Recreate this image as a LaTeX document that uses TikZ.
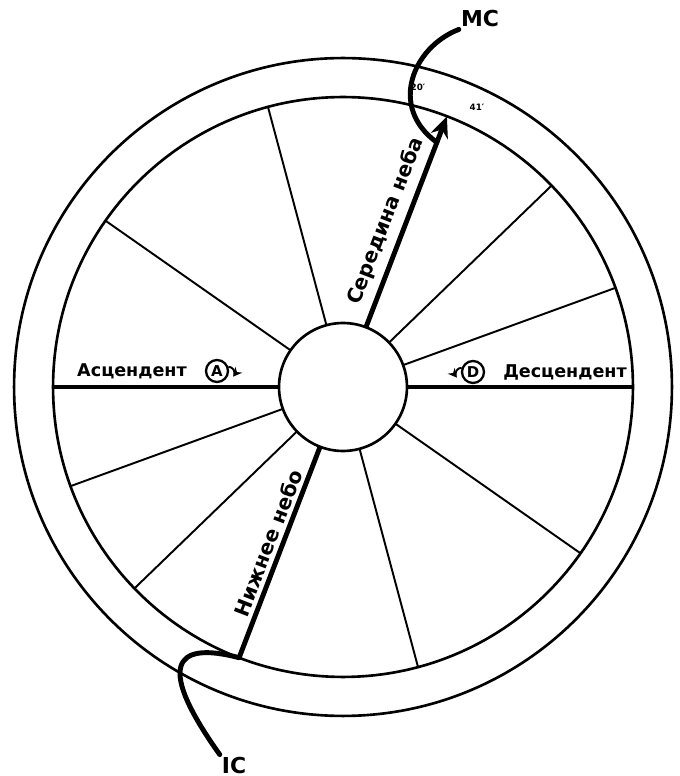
\documentclass[tikz,border=0pt]{standalone}
\usepackage{fontspec}
\setmainfont{DejaVu Sans}
\usetikzlibrary{arrows.meta,positioning}

\begin{document}
\begin{tikzpicture}[
  x=0.02cm, y=0.02cm,
  wheel/.style={draw, circle, line width=1.5pt, inner sep=0pt, outer sep=0pt},
  cusp/.style={line width=1.1pt},
  axis/.style={line width=2.8pt},
  lbl/.style={font=\bfseries\fontsize{10}{12}\selectfont, inner sep=1pt},
  slope/.style={font=\bfseries\fontsize{11.5}{13}\selectfont, inner sep=1pt, sloped},
  big/.style={font=\bfseries\fontsize{12.5}{14}\selectfont, inner sep=1pt},
  sign/.style={draw, circle, line width=1.3pt, minimum size=4.4mm, inner sep=0pt,
               font=\bfseries\fontsize{8.5}{10}\selectfont},
  lead/.style={line width=2.8pt, line cap=round},
  hookarr/.style={line width=1.1pt, -{Stealth[length=1.8mm,width=1.8mm]}},
  tiny/.style={font=\bfseries\fontsize{5}{6}\selectfont, inner sep=0pt}
]
\useasboundingbox (-343,-389) rectangle (336,387);
\node[wheel, minimum size=13.16cm] (rim) at (0,0) {};
\node[wheel, minimum size=11.6cm] (ring) at (0,0) {};
\node[wheel, minimum size=2.56cm] (hub) at (0,0) {};
% house cusps
\foreach \a in {20,44,105,145,200,224,285,325}
  \draw[cusp] (hub.\a) -- (ring.\a);
% the two axes
\draw[axis] (ring.180) -- (hub.180);
\draw[axis] (hub.0) -- (ring.0);
\draw[axis, -{Stealth[length=4.2mm,width=3.6mm]}] (hub.69) --
  node[slope, above=3pt, pos=0.47] (mcname) {Середина неба} (ring.69);
\draw[axis] (ring.249) -- node[slope, above=1pt, pos=0.52] (icname) {Нижнее небо} (hub.249);
% ascendant / descendant
\node[sign] (ascA) at (-126,16) {A};
\node[lbl, left=3.2mm of ascA] (asc) {Асцендент};
\draw[hookarr] (ascA.20) arc[start angle=90, end angle=-40, radius=6];
\node[sign] (descD) at (130,15) {D};
\node[lbl, right=3.2mm of descD] (desc) {Десцендент};
\draw[hookarr] (descD.160) arc[start angle=90, end angle=220, radius=6];
% MC and IC leads
\node[big] (mclabel) at (137,368) {MC};
\coordinate (mcfoot) at (69:262);
\draw[lead] (mclabel.south west) .. controls (70,340) and (45,280) .. (mcfoot);
\node[tiny] (min20) at (75,300) {20′};
\node[tiny] (min41) at (134,280) {41′};
\node[big] (iclabel) at (-109,-378) {IC};
\draw[lead] (ring.249) .. controls (-172,-253) and (-185,-281) .. (iclabel.north west);
\end{tikzpicture}
\end{document}
